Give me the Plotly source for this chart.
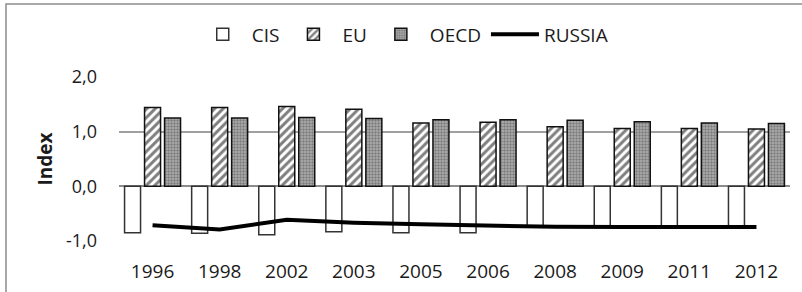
import plotly.graph_objects as go

years = ["1996", "1998", "2002", "2003", "2005", "2006", "2008", "2009", "2011", "2012"]
cis = [-0.85, -0.86, -0.885, -0.83, -0.85, -0.85, -0.73, -0.74, -0.74, -0.74]
eu = [1.44, 1.44, 1.46, 1.41, 1.16, 1.17, 1.09, 1.06, 1.06, 1.05]
oecd = [1.25, 1.25, 1.26, 1.24, 1.22, 1.22, 1.21, 1.18, 1.16, 1.15]
russia = [-0.71, -0.79, -0.61, -0.665, -0.695, -0.725, -0.74, -0.745, -0.745, -0.745]
y_ticks = [-1, 0, 1, 2]
y_tick_labels = ["-1,0", "0,0", "1,0", "2,0"]

FONT = "Open Sans"

fig = go.Figure()
fig.add_trace(go.Bar(
    x=years, y=cis, name="CIS",
    marker=dict(color="white", line=dict(color="#333333", width=1.5)),
))
fig.add_trace(go.Bar(
    x=years, y=eu, name="EU",
    marker=dict(color="white", line=dict(color="#111111", width=1.5),
                pattern=dict(shape="/", fgcolor="black", bgcolor="white", size=6, solidity=0.5)),
))
fig.add_trace(go.Bar(
    x=years, y=oecd, name="OECD",
    marker=dict(color="#8c8c8c", line=dict(color="#111111", width=1.5),
                pattern=dict(shape=".", fgcolor="#4a4a4a", bgcolor="#b0b0b0", size=3, solidity=0.5)),
))
fig.add_trace(go.Scatter(
    x=years, y=russia, name="RUSSIA", mode="lines",
    line=dict(color="black", width=4),
))

fig.update_layout(
    width=802, height=292,
    margin=dict(l=119, r=12, t=77, b=51, autoexpand=False),
    paper_bgcolor="white", plot_bgcolor="white",
    font=dict(family=FONT, size=19, color="#1a1a1a"),
    separators=",.",
    barmode="group", bargap=0.106, bargroupgap=0.2,
    showlegend=True,
    legend=dict(orientation="h", x=0.4236, xanchor="center", y=1.26, yanchor="middle",
                font=dict(family=FONT, size=19), itemwidth=48, traceorder="normal",
                bgcolor="rgba(0,0,0,0)"),
    xaxis=dict(showgrid=False, showline=False, zeroline=False, ticks="",
               tickfont=dict(family=FONT, size=19), ticklabelstandoff=17),
    yaxis=dict(range=[-1, 2], tickvals=y_ticks, ticktext=y_tick_labels,
               showgrid=True, gridcolor="#a0a0a0", gridwidth=1.5,
               zeroline=True, zerolinecolor="#8c8c8c", zerolinewidth=2,
               showline=False, ticks="", ticklabelstandoff=21,
               tickfont=dict(family=FONT, size=18),
               title=dict(text="<b>Index</b>", font=dict(family=FONT, size=19), standoff=8)),
    shapes=[dict(type="rect", xref="paper", yref="paper",
                 x0=-0.1684, x1=1.2, y0=-0.6, y1=1.445,
                 line=dict(color="#8c8c8c", width=1.5), fillcolor="rgba(0,0,0,0)", layer="below")],
)

fig.write_html("out.html", config={"displayModeBar": False},
               post_script="document.body.style.margin='0';document.body.style.overflow='hidden';")
